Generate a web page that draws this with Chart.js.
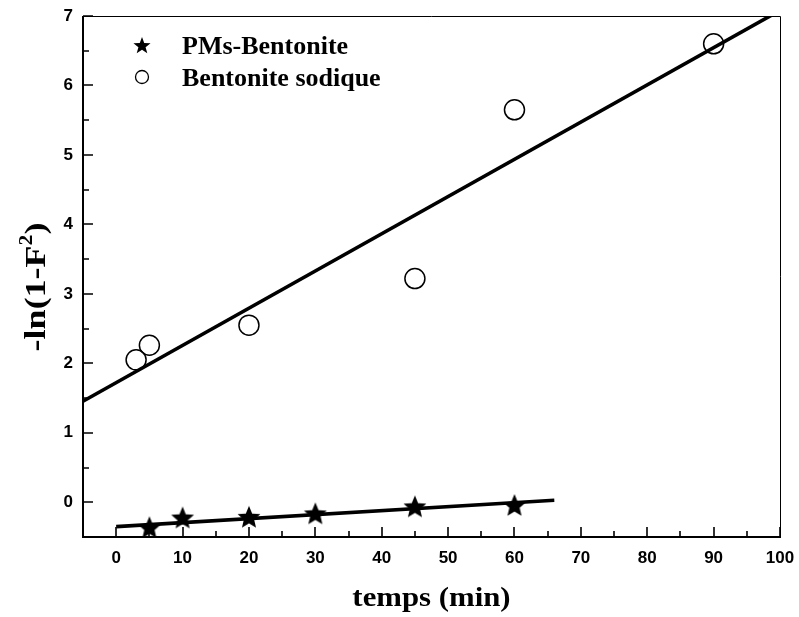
<!DOCTYPE html>
<html>
<head>
<meta charset="utf-8">
<script src="https://cdn.jsdelivr.net/npm/chart.js@4"></script>
<style>
  html, body { margin: 0; padding: 0; background: #fff; }
  #wrap { width: 799px; height: 617px; }
</style>
</head>
<body>
<div id="wrap"><canvas id="kin" width="799" height="617"></canvas></div>
<script>
(function(){
    // measured points
    const pmsTime = [5, 10, 20, 30, 45, 60];
    const pmsValue = [-0.36, -0.22, -0.21, -0.16, -0.06, -0.04];
    const sodTime = [3, 5, 20, 45, 60, 90];
    const sodValue = [2.05, 2.26, 2.55, 3.22, 5.65, 6.60];

    // linear fits (end points)
    const pmsFitTime = [0, 66];
    const pmsFitValue = [-0.35, 0.03];
    const sodFitTime = [-5, 100];
    const sodFitValue = [1.455, 7.08];

    const xTicks = [0, 10, 20, 30, 40, 50, 60, 70, 80, 90, 100];
    const yTicks = [0, 1, 2, 3, 4, 5, 6, 7];
    const seriesNames = ['PMs-Bentonite', 'Bentonite sodique'];

    const toPoints = (xs, ys) => xs.map((x, i) => ({ x: x, y: ys[i] }));

    function starPath(ctx, cx, cy, r, ratio) {
        const inner = r * (ratio || 0.42);
        ctx.beginPath();
        for (let i = 0; i < 10; i++) {
            const rad = i % 2 === 0 ? r : inner;
            const a = -Math.PI / 2 + i * Math.PI / 5;
            const px = cx + rad * Math.cos(a);
            const py = cy + rad * Math.sin(a);
            if (i === 0) ctx.moveTo(px, py); else ctx.lineTo(px, py);
        }
        ctx.closePath();
    }

    function starImage(r) {
        const c = document.createElement('canvas');
        const size = Math.ceil(r * 2 + 2);
        c.width = size;
        c.height = size;
        const g = c.getContext('2d');
        g.fillStyle = '#000';
        starPath(g, size / 2, size / 2 + 1, r, 0.45);
        g.fill();
        return c;
    }

    const serif = '"Liberation Serif", "Times New Roman", serif';
    const sans = '"Liberation Sans", Arial, sans-serif';

    // frame, inward ticks, axis titles and legend
    const decor = {
        id: 'decor',
        afterDraw(chart) {
            const ctx = chart.ctx;
            const a = chart.chartArea;
            const xs = chart.scales.x;
            const ys = chart.scales.y;
            ctx.save();
            ctx.strokeStyle = '#000';

            ctx.lineWidth = 1;
            ctx.beginPath();
            ctx.moveTo(a.left, a.top + 0.5);
            ctx.lineTo(a.right + 0.5, a.top + 0.5);
            ctx.lineTo(a.right + 0.5, a.bottom);
            ctx.stroke();

            ctx.lineWidth = 2;
            ctx.beginPath();
            ctx.moveTo(a.left, a.top);
            ctx.lineTo(a.left, a.bottom);
            ctx.lineTo(a.right + 1, a.bottom);
            ctx.stroke();

            ctx.lineWidth = 1.6;
            ctx.beginPath();
            for (let v = 0; v <= 100; v += 5) {
                const px = Math.round(xs.getPixelForValue(v));
                const len = v % 10 === 0 ? 10 : 6;
                ctx.moveTo(px, a.bottom);
                ctx.lineTo(px, a.bottom - len);
            }
            for (let v = 0; v <= 7; v += 0.5) {
                const py = Math.round(ys.getPixelForValue(v));
                const len = v % 1 === 0 ? 10 : 6;
                ctx.moveTo(a.left, py);
                ctx.lineTo(a.left + len, py);
            }
            ctx.stroke();

            ctx.fillStyle = '#000';

            // x title
            ctx.save();
            ctx.translate((a.left + a.right) / 2, 606);
            ctx.scale(1.1, 1);
            ctx.font = 'bold 28px ' + serif;
            ctx.textAlign = 'center';
            ctx.textBaseline = 'alphabetic';
            ctx.fillText('temps (min)', 0, 0);
            ctx.restore();

            // y title with superscript
            ctx.save();
            ctx.translate(45, 287);
            ctx.rotate(-Math.PI / 2);
            ctx.scale(1.2, 1);
            const main1 = '-ln(1-F';
            const sup = '2';
            const main2 = ')';
            ctx.font = 'bold 30px ' + serif;
            const w1 = ctx.measureText(main1).width;
            const w3 = ctx.measureText(main2).width;
            ctx.font = 'bold 18px ' + serif;
            const w2 = ctx.measureText(sup).width;
            const x0 = -(w1 + w2 + w3) / 2;
            ctx.textAlign = 'left';
            ctx.font = 'bold 30px ' + serif;
            ctx.fillText(main1, x0, 0);
            ctx.font = 'bold 18px ' + serif;
            ctx.fillText(sup, x0 + w1, -13);
            ctx.font = 'bold 30px ' + serif;
            ctx.fillText(main2, x0 + w1 + w2, 0);
            ctx.restore();

            // legend
            starPath(ctx, 142, 46, 9, 0.42);
            ctx.fill();
            ctx.lineWidth = 1.3;
            ctx.beginPath();
            ctx.arc(142, 77, 6.5, 0, Math.PI * 2);
            ctx.stroke();
            ctx.font = 'bold 26px ' + serif;
            ctx.textAlign = 'left';
            ctx.fillText(seriesNames[0], 182, 54);
            ctx.fillText(seriesNames[1], 182, 86);

            ctx.restore();
        }
    };

    const ctx = document.getElementById('kin');
    new Chart(ctx, {
        type: 'scatter',
        data: {
            datasets: [
                {
                    label: 'fit sodique',
                    data: toPoints(sodFitTime, sodFitValue),
                    showLine: true,
                    borderColor: '#000',
                    borderWidth: 3.6,
                    pointRadius: 0
                },
                {
                    label: 'fit PMs',
                    data: toPoints(pmsFitTime, pmsFitValue),
                    showLine: true,
                    borderColor: '#000',
                    borderWidth: 3.6,
                    pointRadius: 0
                },
                {
                    label: seriesNames[0],
                    data: toPoints(pmsTime, pmsValue),
                    pointStyle: starImage(12),
                    pointRadius: 12
                },
                {
                    label: seriesNames[1],
                    data: toPoints(sodTime, sodValue),
                    pointStyle: 'circle',
                    pointRadius: 10,
                    borderWidth: 1.5,
                    borderColor: '#000',
                    backgroundColor: 'rgba(0,0,0,0)'
                }
            ]
        },
        options: {
            responsive: false,
            animation: false,
            devicePixelRatio: 1,
            layout: { padding: { top: 16, right: 19, left: 0, bottom: 0 } },
            plugins: {
                legend: { display: false },
                tooltip: { enabled: false }
            },
            scales: {
                x: {
                    type: 'linear',
                    min: -5,
                    max: 100,
                    grid: { display: false, drawTicks: false },
                    border: { display: false },
                    afterBuildTicks: s => { s.ticks = xTicks.map(v => ({ value: v })); },
                    afterFit: s => { s.height = 80; s.paddingLeft = 0; s.paddingRight = 0; },
                    ticks: {
                        padding: 11,
                        color: '#000',
                        font: { family: sans, size: 17, weight: 'bold' }
                    }
                },
                y: {
                    type: 'linear',
                    min: -0.5,
                    max: 7,
                    grid: { display: false, drawTicks: false },
                    border: { display: false },
                    afterBuildTicks: s => { s.ticks = yTicks.map(v => ({ value: v })); },
                    afterFit: s => { s.width = 83; s.paddingTop = 0; s.paddingBottom = 0; },
                    ticks: {
                        padding: 10,
                        color: '#000',
                        font: { family: sans, size: 17, weight: 'bold' }
                    }
                }
            }
        },
        plugins: [decor]
    });
})();
</script>
</body>
</html>
